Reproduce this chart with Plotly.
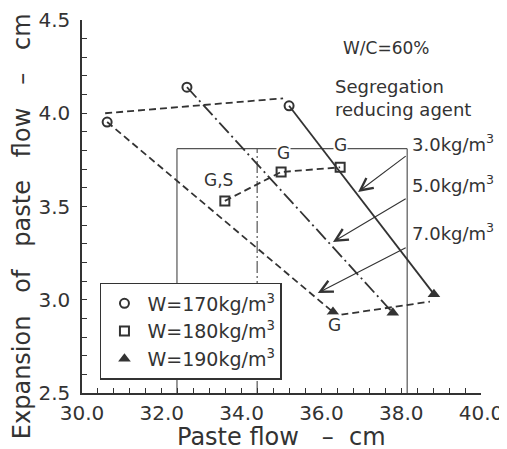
import plotly.graph_objects as go

# ---- data ----
# marker points, index 0/1/2 = agent 7.0 / 5.0 / 3.0 kg/m3
w170_x = [30.63, 32.63, 35.19]
w170_y = [3.953, 4.14, 4.04]
w180_x = [33.58, 34.99, 36.47]
w180_y = [3.53, 3.685, 3.71]
w190_x = [36.29, 37.79, 38.82]
w190_y = [2.934, 2.93, 3.03]

agent_labels = ["7.0kg/m<sup>3</sup>", "5.0kg/m<sup>3</sup>", "3.0kg/m<sup>3</sup>"]
agent_dash = ["7px,4px", "14px,4px,2px,4px", "solid"]

# connecting lines of equal water content (as drawn)
link170_x = [30.58, 35.04]
link170_y = [4.00, 4.08]
link190_x = [36.50, 38.72]
link190_y = [2.92, 2.99]

# region box
box_x0, box_x1, box_xmid, box_top = 32.38, 38.15, 34.39, 3.81

# arrows: label tail (at box edge) -> head on line
arrow_tail_y = [3.283, 3.546, 3.776]
arrow_head_x = [35.91, 36.29, 36.92]
arrow_head_y = [3.036, 3.31, 3.578]
label_y = [3.365, 3.62, 3.84]

# G labels
g_text = ["G", "G,S", "G", "G"]
g_x = [36.34, 33.41, 35.04, 36.47]
g_y = [2.865, 3.64, 3.787, 3.83]

x_range = [30, 40]
y_range = [2.5, 4.5]

INK = "#333333"
FONT = "DejaVu Sans"

fig = go.Figure()

# sloped lines (one per agent dosage): W=170 point -> W=190 point
for i in range(3):
    fig.add_trace(go.Scatter(
        x=[w170_x[i], w190_x[i]], y=[w170_y[i], w190_y[i]],
        mode="lines", line=dict(color=INK, width=1.8, dash=agent_dash[i]),
        showlegend=False, hoverinfo="skip"))

# equal-water connecting dashed lines
fig.add_trace(go.Scatter(x=link170_x, y=link170_y, mode="lines",
                         line=dict(color=INK, width=1.8, dash="7px,4px"),
                         showlegend=False, hoverinfo="skip"))
fig.add_trace(go.Scatter(x=w180_x, y=w180_y, mode="lines",
                         line=dict(color=INK, width=1.8, dash="7px,4px"),
                         showlegend=False, hoverinfo="skip"))
fig.add_trace(go.Scatter(x=link190_x, y=link190_y, mode="lines",
                         line=dict(color=INK, width=1.8, dash="7px,4px"),
                         showlegend=False, hoverinfo="skip"))

# markers
fig.add_trace(go.Scatter(x=w170_x, y=w170_y, mode="markers", name="W=170kg/m<sup>3</sup>",
                         marker=dict(symbol="circle-open", size=9, color=INK, line=dict(width=2))))
fig.add_trace(go.Scatter(x=w180_x, y=w180_y, mode="markers", name="W=180kg/m<sup>3</sup>",
                         marker=dict(symbol="square-open", size=9, color=INK, line=dict(width=2))))
fig.add_trace(go.Scatter(x=w190_x, y=w190_y, mode="markers", name="W=190kg/m<sup>3</sup>",
                         marker=dict(symbol="triangle-up", size=11, color=INK)))

# region box
shape_line = dict(color="#555555", width=1.2)
fig.add_shape(type="line", xref="x", yref="y", x0=box_x0, x1=box_x1, y0=box_top, y1=box_top, line=shape_line, layer="below")
fig.add_shape(type="line", xref="x", yref="y", x0=box_x0, x1=box_x0, y0=y_range[0], y1=box_top, line=shape_line, layer="below")
fig.add_shape(type="line", xref="x", yref="y", x0=box_x1, x1=box_x1, y0=y_range[0], y1=box_top, line=shape_line, layer="below")
fig.add_shape(type="line", xref="x", yref="y", x0=box_xmid, x1=box_xmid, y0=y_range[0], y1=box_top,
              line=dict(color="#555555", width=1.2, dash="12px,3px,2px,3px"), layer="below")

annotations = []
# arrows and dosage labels
for i in range(3):
    annotations.append(dict(x=arrow_head_x[i], y=arrow_head_y[i], ax=box_x1, ay=arrow_tail_y[i],
                            xref="x", yref="y", axref="x", ayref="y", text="", showarrow=True,
                            arrowhead=5, arrowsize=2.2, arrowwidth=1.1, arrowcolor=INK))
    annotations.append(dict(x=box_x1 + 0.07, y=label_y[i], xref="x", yref="y", text=agent_labels[i],
                            showarrow=False, xanchor="left", yanchor="middle",
                            font=dict(family=FONT, size=18, color=INK)))
# G labels
for t, gx, gy in zip(g_text, g_x, g_y):
    annotations.append(dict(x=gx, y=gy, xref="x", yref="y", text=t, showarrow=False,
                            bgcolor="white", borderpad=0,
                            font=dict(family=FONT, size=17, color=INK)))
annotations.append(dict(x=37.62, y=4.35, xref="x", yref="y", text="W/C=60%", showarrow=False,
                        xanchor="center", yanchor="middle",
                        font=dict(family=FONT, size=17, color=INK)))
annotations.append(dict(x=36.29, y=4.082, xref="x", yref="y",
                        text="Segregation<br>reducing agent", showarrow=False,
                        xanchor="left", yanchor="middle", align="left",
                        font=dict(family=FONT, size=18, color=INK)))
# axis titles
annotations.append(dict(x=0.5, y=-0.118, xref="paper", yref="paper",
                        text="Paste flow   –  cm", showarrow=False,
                        xanchor="center", yanchor="middle",
                        font=dict(family=FONT, size=24, color=INK)))
annotations.append(dict(x=-0.150, y=0.4477, xref="paper", yref="paper",
                        text="Expansion   of   paste   flow   –   cm", showarrow=False,
                        textangle=-90, xanchor="center", yanchor="middle",
                        font=dict(family=FONT, size=24, color=INK)))

fig.update_layout(
    width=499, height=441,
    margin=dict(l=74, r=26, t=12, b=56, autoexpand=False),
    paper_bgcolor="white", plot_bgcolor="white",
    font=dict(family=FONT, size=19, color=INK),
    showlegend=True,
    legend=dict(x=0.045, y=0.295, xanchor="left", yanchor="top",
                bordercolor=INK, borderwidth=1.5, bgcolor="white", itemwidth=36,
                font=dict(family=FONT, size=19, color=INK), tracegroupgap=0),
    annotations=annotations,
)
fig.update_xaxes(range=x_range, tickvals=[30, 32, 34, 36, 38, 40], tickformat=".1f",
                 ticks="inside", ticklen=5, tickwidth=1.2, tickcolor=INK,
                 minor=dict(dtick=0.4, ticks="inside", ticklen=5, tickwidth=1.2, tickcolor=INK),
                 showline=True, linecolor=INK, linewidth=1.5, showgrid=False, zeroline=False,
                 tickfont=dict(size=20), ticklabelstandoff=1, automargin=False)
fig.update_yaxes(range=y_range, dtick=0.5, tickformat=".1f",
                 ticks="inside", ticklen=5, tickwidth=1.2, tickcolor=INK,
                 minor=dict(dtick=0.1, ticks="inside", ticklen=5, tickwidth=1.2, tickcolor=INK),
                 showline=True, linecolor=INK, linewidth=1.5, showgrid=False, zeroline=False,
                 tickfont=dict(size=20), ticklabelstandoff=6, automargin=False)

fig.write_html("out.html")
